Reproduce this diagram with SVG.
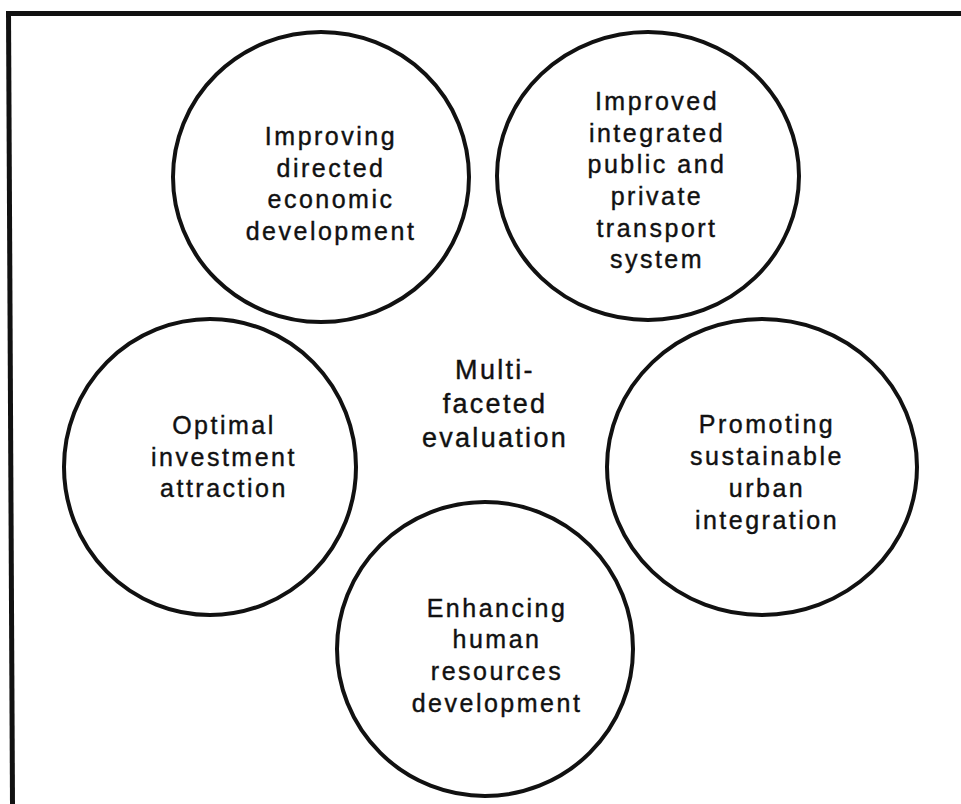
<svg xmlns="http://www.w3.org/2000/svg" width="961" height="804" viewBox="0 0 961 804">
<style>
.c{fill:#fff;stroke:#111;stroke-width:4}
.t{font-family:"Liberation Sans",Arial,sans-serif;font-size:25px;letter-spacing:2.5px;fill:#111;stroke:#111;stroke-width:0.4;text-anchor:middle}
.m{font-size:27px;letter-spacing:2.3px}
</style>
<rect width="961" height="804" fill="#fff"/>
<g id="frame" fill="none" stroke="#111">
<path d="M8.5 13.5 L961 13.5" stroke-width="5"/>
<path d="M8.5 11 L12.5 804" stroke-width="5"/>
</g>
<g id="connectors"></g>
<g id="n1"><ellipse class="c" cx="321" cy="177" rx="148" ry="145"/>
<text class="t"><tspan x="331" y="145">Improving</tspan><tspan x="331" y="177">directed</tspan><tspan x="331" y="208">economic</tspan><tspan x="331" y="240">development</tspan></text></g>
<g id="n2"><ellipse class="c" cx="648" cy="176" rx="151" ry="144"/>
<text class="t"><tspan x="657" y="110">Improved</tspan><tspan x="657" y="142">integrated</tspan><tspan x="657" y="173">public and</tspan><tspan x="657" y="205">private</tspan><tspan x="657" y="237">transport</tspan><tspan x="657" y="268">system</tspan></text></g>
<g id="n3"><ellipse class="c" cx="210" cy="467" rx="146" ry="148"/>
<text class="t"><tspan x="224" y="434">Optimal</tspan><tspan x="224" y="466">investment</tspan><tspan x="224" y="497">attraction</tspan></text></g>
<g id="n4"><ellipse class="c" cx="762" cy="467" rx="155" ry="148"/>
<text class="t"><tspan x="767" y="433">Promoting</tspan><tspan x="767" y="465">sustainable</tspan><tspan x="767" y="497">urban</tspan><tspan x="767" y="529">integration</tspan></text></g>
<g id="n5"><ellipse class="c" cx="485" cy="649" rx="148" ry="147"/>
<text class="t"><tspan x="497" y="617">Enhancing</tspan><tspan x="497" y="648">human</tspan><tspan x="497" y="680">resources</tspan><tspan x="497" y="712">development</tspan></text></g>
<g id="center"><text class="t m"><tspan x="495" y="379">Multi-</tspan><tspan x="495" y="413">faceted</tspan><tspan x="495" y="447">evaluation</tspan></text></g>
</svg>
